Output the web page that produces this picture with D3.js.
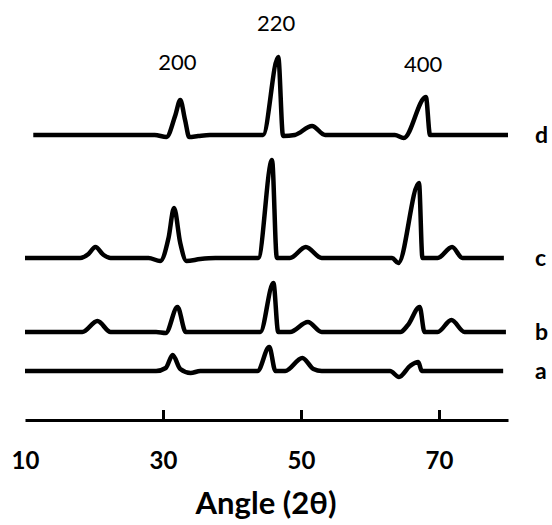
<!DOCTYPE html>
<html>
<head>
<meta charset="utf-8">
<script src="https://cdn.jsdelivr.net/npm/d3@7"></script>
<style>
  html, body { margin: 0; padding: 0; background: #fff; }
  svg { display: block; }
</style>
</head>
<body>
<svg id="chart" width="552" height="525"></svg>
<script>
// ---- data ----
const seriesNames = ["a", "b", "c", "d"];
const seriesOffsets = [49, 88, 162, 285];

const seriesA = [
  [10, 0], [29.0, 0], [30.4, 3], [31.4, 16], [32.5, 2], [34.0, -2], [35.4, 0],
  [43.7, 0], [45.4, 24], [46.3, 0], [47.7, 0], [50.2, 13], [51.8, 2], [53.0, 0],
  [62.9, 0], [64.2, -6], [65.8, 5], [67.0, 9], [67.5, 0], [79.3, 0]
];
const seriesB = [
  [10, 0], [18.3, 0], [20.5, 11], [22.4, 0], [29.0, 0], [30.4, -1], [32.1, 25],
  [33.3, 0], [35.4, 0], [44.1, 0], [46.0, 49], [46.7, 0], [48.4, 0], [51.0, 10],
  [53.0, 0], [64.4, 0], [65.5, 7], [67.2, 25], [67.9, 0], [69.8, 0], [71.8, 12],
  [73.7, 0], [79.7, 0]
];
const seriesC = [
  [10, 0], [18.0, 0], [19.2, 4], [20.2, 11], [21.4, 3], [22.4, 0], [27.9, 0],
  [29.6, -3], [30.8, 20], [31.6, 50], [32.5, 15], [33.4, -3], [35.4, -1], [37.6, 0],
  [43.8, 0], [45.8, 98], [46.5, 0], [48.4, 0], [50.7, 11], [53.0, 0], [63.2, 0],
  [64.1, -5], [67.1, 75], [67.6, 0], [69.8, 0], [71.9, 11], [73.4, 0], [79.4, 0]
];
const seriesD = [
  [11.2, 0], [28.8, 0], [30.5, -2], [31.8, 20], [32.5, 35], [33.2, 15], [33.8, -2],
  [35.1, -1], [36.8, 0], [44.5, 0], [46.7, 78], [47.4, -1], [49.1, 0], [51.6, 9],
  [53.5, 0], [63.6, 0], [64.9, -3], [68.1, 38], [68.7, 0], [80, 0]
];
const seriesData = [seriesA, seriesB, seriesC, seriesD];

const tickValues = [10, 30, 50, 70];
const peakLabels = ["200", "220", "400"];
const peakAngles = [32.1, 46.4, 67.7];
const peakHeights = [350, 389, 348];
const xTitle = "Angle (2\u03B8)";

// ---- scales ----
const svg = d3.select("#chart");
const x = d3.scaleLinear().domain([10, 80]).range([25, 508]);
const y = d3.scaleLinear().domain([0, 400]).range([420, 20]);

// ---- axis ----
const axis = d3.axisBottom(x)
  .tickValues(tickValues)
  .tickSizeInner(-10)
  .tickSizeOuter(0)
  .tickPadding(32)
  .tickFormat(d3.format("d"));

const gx = svg.append("g").attr("transform", `translate(0,${y(0)})`).call(axis);
gx.select(".domain").attr("stroke", "#000").attr("stroke-width", 3);
gx.selectAll(".tick line")
  .attr("stroke", "#000")
  .attr("stroke-width", 3)
  .attr("stroke-opacity", d => d === 10 ? 0 : 1);
gx.selectAll(".tick text")
  .attr("fill", "#000")
  .style("font-family", "Lato, 'Open Sans', sans-serif")
  .style("font-weight", "bold")
  .style("font-size", "24px");

svg.append("text")
  .attr("x", 266).attr("y", 514)
  .attr("text-anchor", "middle")
  .style("font-family", "Lato, 'Open Sans', sans-serif")
  .style("font-weight", "bold")
  .style("font-size", "31px")
  .attr("fill", "#000")
  .text(xTitle);

// ---- lines ----
const line = d3.line().curve(d3.curveMonotoneX);

seriesData.forEach((data, i) => {
  const off = seriesOffsets[i];
  svg.append("path")
    .attr("d", line(data.map(p => [x(p[0]), y(p[1] + off)])))
    .attr("fill", "none")
    .attr("stroke", "#000")
    .attr("stroke-width", 4.5)
    .attr("stroke-linejoin", "round")
    .attr("stroke-linecap", "butt");

  svg.append("text")
    .attr("x", 535)
    .attr("y", y(off) + 8)
    .style("font-family", "Lato, 'Open Sans', sans-serif")
    .style("font-weight", "bold")
    .style("font-size", "23px")
    .attr("fill", "#000")
    .text(seriesNames[i]);
});

// ---- peak labels ----
peakLabels.forEach((lab, i) => {
  svg.append("text")
    .attr("x", x(peakAngles[i]))
    .attr("y", y(peakHeights[i]))
    .attr("text-anchor", "middle")
    .style("font-family", "Lato, 'Open Sans', sans-serif")
    .style("font-weight", "normal")
    .style("font-size", "22px")
    .attr("fill", "#000")
    .text(lab);
});
</script>
</body>
</html>
